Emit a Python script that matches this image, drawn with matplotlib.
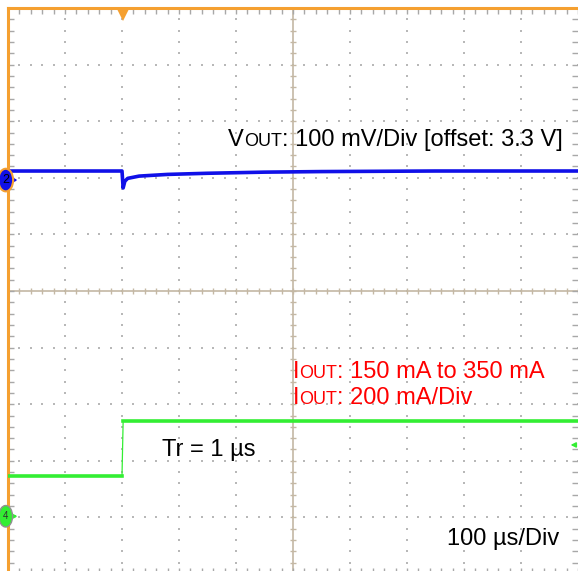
import numpy as np
import matplotlib
matplotlib.use("Agg")
import matplotlib.pyplot as plt
import matplotlib.transforms as mtransforms
from matplotlib.patches import Ellipse

plt.rcParams["font.family"] = ["Liberation Sans", "DejaVu Sans"]

# Traces, in divisions (10 x 10 graticule, origin bottom-left)
vout_t = [0.0, 2.0, 2.02, 2.05, 2.1, 2.3, 2.8, 3.5, 4.5, 5.5, 7.5, 10.0]
vout_y = [7.12, 7.12, 6.82, 6.94, 6.99, 7.03, 7.06, 7.08, 7.10, 7.11, 7.12, 7.12]

iout_t = [0.0, 2.0, 2.02, 10.0]
iout_y = [1.73, 1.73, 2.70, 2.70]

# Channel markers
ch2_level = 6.96
ch4_level = 1.02
ch4_ref = 2.28
trigger_t = 2.02

vout_label = [("V", 17), ("OUT", 13), (": 100 mV/Div [offset: 3.3 V]", 17)]
iout_label1 = [("I", 17), ("OUT", 13), (": 150 mA to 350 mA", 17)]
iout_label2 = [("I", 17), ("OUT", 13), (": 200 mA/Div", 17)]
tr_label = "Tr = 1 µs"
time_label = "100 µs/Div"

BLUE = "#1010e8"
GREEN = "#33ee33"
ORANGE = "#f5a030"
GRID = "#c4b8a4"
RED = "#ff0000"

W, H = 578, 571
fig = plt.figure(figsize=(W / 100, H / 100), dpi=100)
ax = fig.add_axes([8 / W, (H - 8 - 566) / H, 570 / W, 566 / H])
ax.set_xlim(0, 10)
ax.set_ylim(0, 10)

# graticule dots
minor = np.arange(0, 10.01, 0.2)
for k in range(1, 10):
    if k == 5:
        continue
    ax.scatter(np.full_like(minor, k), minor, s=0.6, marker="s", color="#b8b8b8", lw=0, zorder=1)
    ax.scatter(minor, np.full_like(minor, k), s=0.6, marker="s", color="#b8b8b8", lw=0, zorder=1)

# centre crosshair with ticks
ax.axvline(5, color=GRID, lw=1.2, zorder=1)
ax.axhline(5, color=GRID, lw=1.2, zorder=1)
ax.plot(minor, np.full_like(minor, 5), ls="none", marker="|", ms=5, mew=1.0, color=GRID, zorder=1)
ax.plot(np.full_like(minor, 5), minor, ls="none", marker="_", ms=5, mew=1.0, color=GRID, zorder=1)

# border ticks
ax.set_xticks(minor)
ax.set_yticks(minor)
ax.tick_params(which="both", direction="in", length=4, width=1, color="#a8a8a8",
               top=True, bottom=True, left=True, right=True,
               labelbottom=False, labelleft=False)
for side in ["bottom", "right"]:
    ax.spines[side].set_visible(False)
for side in ["left", "top"]:
    ax.spines[side].set_color(ORANGE)
    ax.spines[side].set_linewidth(2.2)

# traces
ax.plot(vout_t, vout_y, color=BLUE, lw=2.6, zorder=3)
ax.plot(iout_t[:2], iout_y[:2], color=GREEN, lw=2.6, zorder=3)
ax.plot(iout_t[1:3], iout_y[1:3], color=GREEN, lw=0.9, zorder=3)
ax.plot(iout_t[2:], iout_y[2:], color=GREEN, lw=2.6, zorder=3)

# channel markers
ax.annotate("", xy=(0.22, ch2_level), xytext=(0.0, ch2_level),
            arrowprops=dict(arrowstyle="-|>", color=BLUE, lw=1.5, mutation_scale=8),
            annotation_clip=False, zorder=5)
ax.add_patch(Ellipse((-0.04, ch2_level), 0.26, 0.40, facecolor=BLUE, edgecolor=ORANGE,
                     lw=1.5, clip_on=False, zorder=6))
ax.text(-0.04, ch2_level, "2", fontsize=9, color="black", ha="center", va="center",
        zorder=7, clip_on=False)

ax.annotate("", xy=(0.22, ch4_level), xytext=(0.0, ch4_level),
            arrowprops=dict(arrowstyle="-|>", color=GREEN, lw=1.5, mutation_scale=8),
            annotation_clip=False, zorder=5)
ax.add_patch(Ellipse((-0.04, ch4_level), 0.24, 0.38, facecolor=GREEN, edgecolor="#909090",
                     lw=1.0, clip_on=False, zorder=6))
ax.text(-0.04, ch4_level, "4", fontsize=7, color="#303030", ha="center", va="center",
        zorder=7, clip_on=False)

ax.annotate("", xy=(9.82, ch4_ref), xytext=(10.0, ch4_ref),
            arrowprops=dict(arrowstyle="-|>", color=GREEN, lw=1.2, mutation_scale=7),
            annotation_clip=False, zorder=5)

ax.plot([trigger_t], [9.87], marker="v", ms=8, color=ORANGE, mew=0, clip_on=False, zorder=6)

# labels
renderer = fig.canvas.get_renderer()


def rich_text(x, y, parts, color):
    dx = 0
    for s, size in parts:
        tr = mtransforms.offset_copy(ax.transData, fig=fig, x=dx, y=0, units="dots")
        t = ax.text(x, y, s, fontsize=size, color=color, ha="left", va="baseline",
                    transform=tr, zorder=8)
        dx += t.get_window_extent(renderer).width


rich_text(3.86, 7.56, vout_label, "black")
rich_text(5.0, 3.46, iout_label1, RED)
rich_text(5.0, 3.0, iout_label2, RED)
ax.text(2.70, 2.08, tr_label, fontsize=17, color="black", va="baseline", zorder=8)
ax.text(7.70, 0.51, time_label, fontsize=17, color="black", va="baseline", zorder=8)

fig.savefig("out.png", dpi=100)
